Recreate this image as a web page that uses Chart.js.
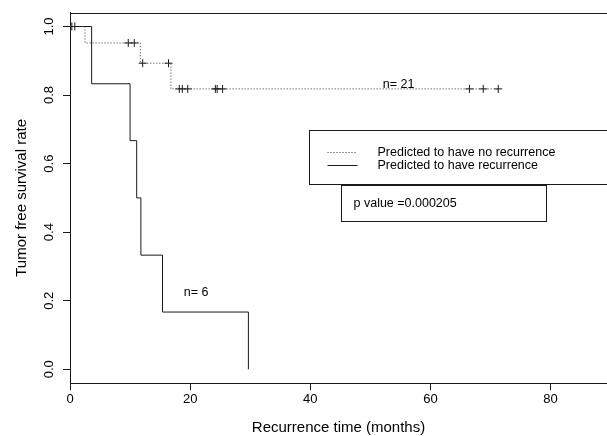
<!DOCTYPE html>
<html><head><meta charset="utf-8">
<script src="https://cdn.jsdelivr.net/npm/chart.js@4.4.0/dist/chart.umd.min.js"></script>
<style>html,body{margin:0;padding:0;background:#fff}#wrap{width:607px;height:436px;position:relative}</style>
</head><body><div id="wrap"><canvas id="km"></canvas></div>
<script>
'use strict';
/* Kaplan-Meier: predicted recurrence vs no recurrence */
const noRecTime=[0,2.5,11.7,16.8,71.3];
const noRecSurv=[1,0.952,0.893,0.818,0.818];
const recTime=[0,3.6,10.0,11.1,11.8,15.4,29.7];
const recSurv=[1,0.833,0.667,0.5,0.333,0.167,0];
const censorTime=[0.3,0.8,9.7,10.7,12.1,16.4,18.2,18.7,19.6,24.2,24.5,25.4,66.5,68.8,71.3];
const censorSurv=[1,1,0.952,0.952,0.893,0.893,0.818,0.818,0.818,0.818,0.818,0.818,0.818,0.818,0.818];
const xTicks=[0,20,40,60,80];
const yTicks=[0,0.2,0.4,0.6,0.8,1.0];
const legendLabels=['Predicted to have no recurrence','Predicted to have recurrence'];
const pValueText='p value =0.000205';
const nLabels=['n= 21','n= 6'];

const INK='#1a1a1a', DOT='#333', FAM='"Liberation Sans", Arial, sans-serif';
const font=s=>s+'px '+FAM;
const pts=(xs,ys)=>xs.map((v,i)=>({x:v,y:ys[i]}));

const overlay={id:'overlay',afterDraw(c){
  const {ctx,chartArea:a,scales:{x,y}}=c;
  ctx.save();
  ctx.strokeStyle=INK; ctx.lineWidth=1; ctx.fillStyle='#000';
  // top edge of the plot box
  const t=Math.round(a.top)+.5;
  ctx.beginPath(); ctx.moveTo(a.left,t); ctx.lineTo(c.width+2,t); ctx.stroke();
  // group sizes
  ctx.font=font(12.5); ctx.textBaseline='middle'; ctx.textAlign='center';
  ctx.fillText(nLabels[0],x.getPixelForValue(54.7),y.getPixelForValue(0.831));
  ctx.fillText(nLabels[1],x.getPixelForValue(21.0),y.getPixelForValue(0.225));
  // legend box
  const lx=Math.round(x.getPixelForValue(39.8))+.5, ly=Math.round(y.getPixelForValue(0.699))+.5;
  ctx.strokeRect(lx,ly,c.width,54);
  ctx.beginPath(); ctx.setLineDash([1,2]); ctx.strokeStyle=DOT;
  ctx.moveTo(lx+18,ly+22); ctx.lineTo(lx+48,ly+22); ctx.stroke();
  ctx.setLineDash([]); ctx.strokeStyle=INK;
  ctx.beginPath(); ctx.moveTo(lx+18,ly+35); ctx.lineTo(lx+48,ly+35); ctx.stroke();
  ctx.textAlign='left';
  ctx.fillText(legendLabels[0],lx+68,ly+22);
  ctx.fillText(legendLabels[1],lx+68,ly+35.5);
  // p value box
  const px=Math.round(x.getPixelForValue(45.1))+.5, py=Math.round(y.getPixelForValue(0.537))+.5;
  const pw=Math.round(x.getPixelForValue(79.2))-px+.5, ph=Math.round(y.getPixelForValue(0.432))-py+.5;
  ctx.strokeRect(px,py,pw,ph);
  ctx.fillText(pValueText,px+12,py+ph/2);
  ctx.restore();
}};

new Chart(document.getElementById('km'),{
  type:'line',
  data:{datasets:[
    {label:legendLabels[0],data:pts(noRecTime,noRecSurv),stepped:true,borderColor:DOT,borderWidth:1,borderDash:[1,2],pointRadius:0,fill:false},
    {label:legendLabels[1],data:pts(recTime,recSurv),stepped:true,borderColor:INK,borderWidth:1,pointRadius:0,fill:false},
    {label:'censored',data:pts(censorTime,censorSurv),showLine:false,pointStyle:'cross',pointRadius:4,pointBorderWidth:1,pointBorderColor:INK}
  ]},
  options:{
    responsive:true,maintainAspectRatio:false,animation:false,devicePixelRatio:1,
    layout:{autoPadding:false,padding:{top:12,right:0,left:0,bottom:0}},
    plugins:{legend:{display:false},tooltip:{enabled:false}},
    scales:{
      x:{type:'linear',min:0,max:89.4,
        afterBuildTicks:s=>{s.ticks=xTicks.map(v=>({value:v}));},
        afterFit:s=>{s.height=53;},
        grid:{drawOnChartArea:false,drawTicks:true,tickLength:7,tickColor:INK,tickWidth:1},
        border:{display:true,color:INK,width:1},
        ticks:{color:'#000',font:{family:FAM,size:13},padding:2,maxRotation:0},
        title:{display:true,text:'Recurrence time (months)',color:'#000',font:{family:FAM,size:15,lineHeight:1},padding:{top:0,bottom:0.5}}},
      y:{type:'linear',min:-0.04,max:1.04,
        afterBuildTicks:s=>{s.ticks=yTicks.map(v=>({value:v}));},
        afterFit:s=>{s.width=70;},
        grid:{drawOnChartArea:false,drawTicks:true,tickLength:7,tickColor:INK,tickWidth:1},
        border:{display:true,color:INK,width:1},
        ticks:{color:'#000',font:{family:FAM,size:13},padding:5,minRotation:90,maxRotation:90,crossAlign:'center',callback:v=>v.toFixed(1)},
        title:{display:true,text:'Tumor free survival rate',color:'#000',font:{family:FAM,size:15,lineHeight:1.2},padding:{top:12.7,bottom:0}}}
    }
  },
  plugins:[overlay]
});
</script></body></html>
